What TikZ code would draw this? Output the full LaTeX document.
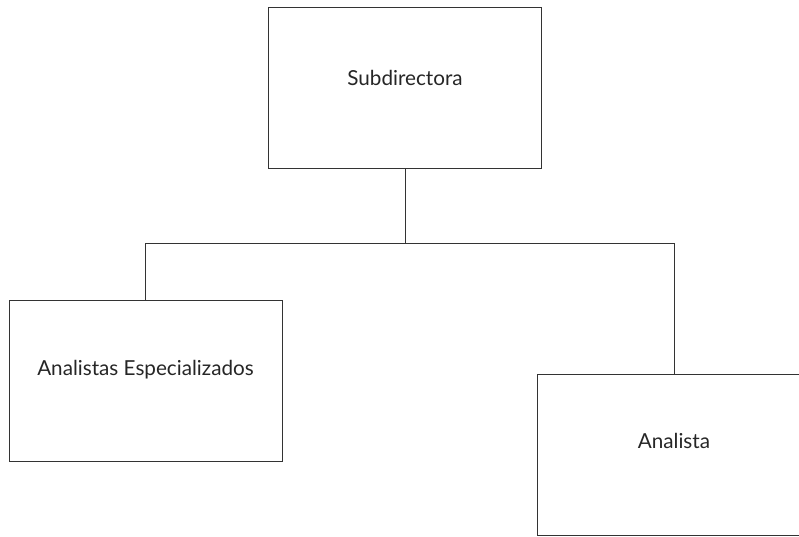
\documentclass[tikz,border=0pt]{standalone}
\usepackage{fontspec}
\setmainfont{Lato}
\usepackage{tikz}
\usetikzlibrary{positioning,calc}
\definecolor{edge}{HTML}{333333}

\begin{document}
\begin{tikzpicture}[
    x=0.75pt, y=-0.75pt,
    unit/.style={rectangle, draw=edge, line width=0.75pt, minimum width=204.75pt, minimum height=120.75pt, inner sep=0pt},
    lbl/.style={font=\fontsize{15.5}{18}\selectfont, text=black!85},
    link/.style={draw=edge, line width=0.7pt}
]
    \useasboundingbox (0,0) rectangle (799,536);
    \clip (0,0) rectangle (799,536);
    % Units
    \node[unit] (sub) at (405,87.5) {};
    \node[lbl] at ([yshift=7.5pt]sub.center) {Subdirectora};

    \node[unit] (esp) at (145.5,380.5) {};
    \node[lbl] at ([yshift=8pt]esp.center) {Analistas Especializados};

    \node[unit] (ana) at (674,454.5) {};
    \node[lbl] at ([yshift=10.5pt]ana.center) {Analista};

    % Links
    \coordinate (bus) at (405,243);
    \draw[link] (sub.south) -- (bus);
    \draw[link] (bus) -| (esp.north);
    \draw[link] (bus) -| (ana.north);
\end{tikzpicture}
\end{document}
